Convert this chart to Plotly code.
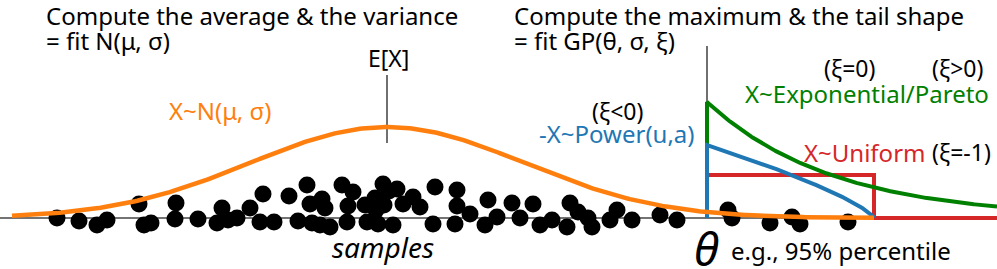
import numpy as np
import plotly.graph_objects as go

# ---- data (arbitrary value units on x; height units on y) ----
sample_x = [57, 79, 97, 107, 139, 144, 151, 175, 176, 198, 217, 222, 228, 237, 250,
            260, 263, 274, 289, 298, 307, 310, 312, 320, 322, 325, 330, 342, 347, 348,
            353, 365, 367, 375, 376, 383, 378, 384, 389, 397, 393, 403, 413, 420, 435,
            433, 457, 457, 455, 470, 485, 488, 497, 512, 520, 533, 540, 552, 570, 567,
            578, 588, 592, 610, 617, 632, 660, 677, 728, 732, 770, 792, 800, 848]
sample_y = [0, -3, -7, -2, 14, -7, -5, -1, 15, -1, -5, 10, -2, 0, 10,
            -4, 24, -4, 22, -3, 33, 14, -5, -7, 19, 10, -9, 33, -4, 12,
            26, 13, -4, 20, 8, 34, -6, 13, 27, 29, -7, 14, 21, 11, 31,
            -6, 28, 12, -6, 4, -7, 18, 1, 15, 0, 14, -7, -2, 15, -9,
            6, 0, -9, -2, 8, -2, 3, -2, 8, 0, -5, 1, -6, -4]

mu = 387          # E[X]
sigma = 137
normal_peak = 91
normal_range = [12, 874]

theta = 707       # threshold
upper = 874       # end of bounded tails
uniform_height = 43
power_height = 73
power_exp = 0.75
exp_height = 116
exp_scale = 125
x_end = 997

# ---- curves from the parameters ----
xn = np.linspace(normal_range[0], normal_range[1], 400)
yn = normal_peak * np.exp(-0.5 * ((xn - mu) / sigma) ** 2)

xp = np.linspace(theta, upper, 200)
yp = power_height * np.clip(1 - (xp - theta) / (upper - theta), 0, None) ** power_exp
xp = np.concatenate([[theta], xp])
yp = np.concatenate([[0], yp])

xe = np.linspace(theta, x_end, 300)
ye = exp_height * np.exp(-(xe - theta) / exp_scale)
xe = np.concatenate([[theta], xe])
ye = np.concatenate([[0], ye])

xu = [theta, theta, upper, upper, x_end]
yu = [0, uniform_height, uniform_height, 0, 0]

ORANGE = "#ff7f0e"
BLUE = "#1f77b4"
GREEN = "#008000"
RED = "#d62728"
FONT = "Noto Sans"

fig = go.Figure()
# baseline
fig.add_trace(go.Scatter(x=[0, upper], y=[0, 0], mode="lines",
                         line=dict(color="#444444", width=1.5), hoverinfo="skip"))
# E[X] marker line
fig.add_trace(go.Scatter(x=[mu, mu], y=[75, 143], mode="lines",
                         line=dict(color="#222222", width=1.3), hoverinfo="skip"))
# theta marker line
fig.add_trace(go.Scatter(x=[theta, theta], y=[0, 172], mode="lines",
                         line=dict(color="#222222", width=1.3), hoverinfo="skip"))
# samples
fig.add_trace(go.Scatter(x=sample_x, y=sample_y, mode="markers",
                         marker=dict(color="black", size=17, line=dict(width=0)),
                         hoverinfo="skip"))
# tails
fig.add_trace(go.Scatter(x=xu, y=yu, mode="lines", line=dict(color=RED, width=4),
                         hoverinfo="skip"))
fig.add_trace(go.Scatter(x=xe, y=ye, mode="lines", line=dict(color=GREEN, width=4),
                         hoverinfo="skip"))
fig.add_trace(go.Scatter(x=xp, y=yp, mode="lines", line=dict(color=BLUE, width=4),
                         hoverinfo="skip"))
# normal
fig.add_trace(go.Scatter(x=xn, y=yn, mode="lines", line=dict(color=ORANGE, width=4.5),
                         hoverinfo="skip"))

BASE = 218  # pixel row of y=0


def txt(text, x, py, color="black", size=24, anchor="left", italic=False):
    fig.add_annotation(x=x, y=BASE - py, xref="x", yref="y", text=text,
                       showarrow=False, xanchor=anchor, yanchor="middle",
                       font=dict(family=FONT, size=size, color=color,
                                 style="italic" if italic else "normal"))


txt("Compute the average &amp; the variance", 44, 15)
txt("= fit N(μ, σ)", 44, 40)
txt("Compute the maximum &amp; the tail shape", 512, 15)
txt("= fit GP(θ, σ, ξ)", 512, 40)
txt("E[X]", 388, 58, size=23, anchor="center")
txt("X~N(μ, σ)", 167, 110, color=ORANGE)
txt("(ξ=0)", 822, 68, size=23)
txt("(ξ>0)", 930, 68, size=23)
txt("X~Exponential/Pareto", 743, 93, color=GREEN)
txt("(ξ<0)", 590, 111, size=23)
txt("-X~Power(u,a)", 537, 133, color=BLUE)
txt("X~Uniform", 802, 152, color=RED)
txt("(ξ=-1)", 930, 152, size=23)
txt("θ", 706, 248, size=46, anchor="center", italic=True)
txt("e.g., 95% percentile", 729, 250)
txt("samples", 383, 247, size=28, anchor="center", italic=True)

fig.update_layout(
    width=997, height=269,
    margin=dict(l=0, r=0, t=0, b=0),
    paper_bgcolor="white", plot_bgcolor="white",
    showlegend=False,
    xaxis=dict(range=[0, 997], visible=False, fixedrange=True),
    yaxis=dict(range=[-51, 218], visible=False, fixedrange=True),
)

fig.write_html("out.html", config={"displayModeBar": False},
               post_script="document.body.style.margin='0';document.body.style.overflow='hidden';")
